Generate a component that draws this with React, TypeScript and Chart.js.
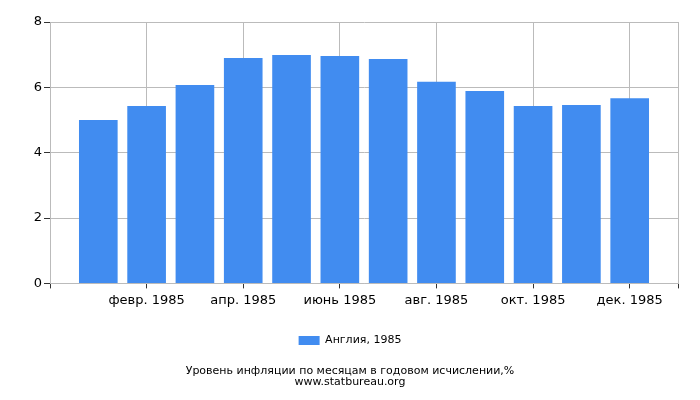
import { useEffect, useRef } from 'react';
import { Chart, registerables } from 'chart.js';

Chart.register(...registerables);

// empty slots at both ends, the axis runs Dec 1984 .. Jan 1986
const months = [
  '',
  'янв. 1985',
  'февр. 1985',
  'март 1985',
  'апр. 1985',
  'май 1985',
  'июнь 1985',
  'июль 1985',
  'авг. 1985',
  'сент. 1985',
  'окт. 1985',
  'нояб. 1985',
  'дек. 1985',
  '',
];
const inflation = [null, 5.0, 5.43, 6.07, 6.9, 6.99, 6.96, 6.87, 6.17, 5.89, 5.43, 5.46, 5.67, null];
const seriesName = 'Англия, 1985';
const titleLines = ['Уровень инфляции по месяцам в годовом исчислении,%', 'www.statbureau.org'];

const FONT = '"DejaVu Sans", sans-serif';
const GRID = '#bbbbbb';

const shownTick = (i: number) => i === 0 || i === months.length - 1 || i % 2 === 0;

export default function App() {
  const canvasRef = useRef<HTMLCanvasElement>(null);
  const chartRef = useRef<Chart | null>(null);

  useEffect(() => {
    document.body.style.margin = '0';
    if (!canvasRef.current) return;
    if (chartRef.current) chartRef.current.destroy();

    chartRef.current = new Chart(canvasRef.current, {
      type: 'bar',
      data: {
        labels: months,
        datasets: [
          {
            label: seriesName,
            data: inflation,
            backgroundColor: '#418cf0',
            borderWidth: 0,
            categoryPercentage: 1,
            barPercentage: 0.8,
          },
        ],
      },
      options: {
        animation: false,
        responsive: false,
        layout: { padding: { top: 22, right: 0, bottom: 12, left: 0 } },
        scales: {
          x: {
            offset: false,
            afterFit: (scale) => {
              scale.height += 9;
            },
            grid: {
              offset: false,
              color: (ctx) => (shownTick(ctx.index) ? GRID : 'transparent'),
              tickColor: (ctx) => (shownTick(ctx.index) ? '#333' : 'transparent'),
              tickLength: 5,
            },
            border: { color: GRID },
            ticks: {
              autoSkip: false,
              maxRotation: 0,
              color: '#000',
              font: { family: FONT, size: 13 },
              padding: 4,
              callback: (_v, i) => (i % 2 === 0 && i > 0 && i < months.length - 1 ? months[i] : ''),
            },
          },
          y: {
            min: 0,
            max: 8,
            afterFit: (scale) => {
              scale.width = 50;
            },
            grid: { color: GRID, tickColor: '#333', tickLength: 6 },
            border: { color: GRID },
            ticks: {
              stepSize: 2,
              color: '#000',
              font: { family: FONT, size: 13 },
              padding: 2,
            },
          },
          // empty spacer on the right so legend and title stay centred on the canvas
          spacer: {
            type: 'linear',
            position: 'right',
            afterFit: (scale) => {
              scale.width = 22;
            },
            grid: { display: false },
            border: { display: false },
            ticks: { display: false },
          },
        },
        plugins: {
          legend: {
            position: 'bottom',
            labels: {
              boxWidth: 21,
              boxHeight: 9,
              color: '#000',
              font: { family: FONT, size: 11 },
              padding: 14,
            },
          },
          title: {
            display: true,
            position: 'bottom',
            text: titleLines,
            color: '#000',
            font: { family: FONT, size: 11, weight: 'normal', lineHeight: 1 },
            padding: { top: 10, bottom: 0 },
          },
          tooltip: { enabled: false },
        },
      },
    });

    return () => {
      if (chartRef.current) {
        chartRef.current.destroy();
        chartRef.current = null;
      }
    };
  }, []);

  return (
    <div style={{ width: 700, height: 400, background: '#fff' }}>
      <canvas ref={canvasRef} width={700} height={400} />
    </div>
  );
}
